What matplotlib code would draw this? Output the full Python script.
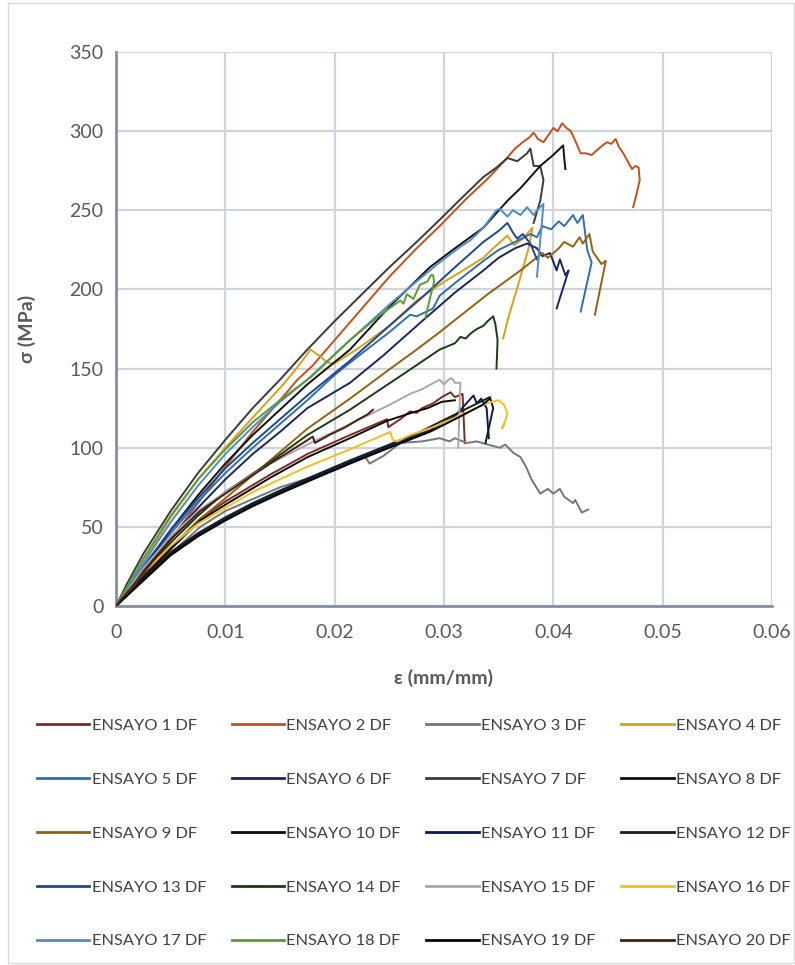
import matplotlib
matplotlib.use('Agg')
import numpy as np
import matplotlib.pyplot as plt
from matplotlib.patches import Rectangle

plt.rcParams['font.family'] = ['Lato', 'DejaVu Sans']

# ─── data: (strain mm/mm, stress MPa) ─────────────────────────────────────────

E01 = [(0, 0), (0.0025, 19), (0.005, 37), (0.0077, 55), (0.01, 66), (0.0141, 83), (0.0175, 96),
       (0.0214, 108), (0.0248, 118), (0.0249, 113), (0.026, 118), (0.0269, 123), (0.0275, 122),
       (0.028, 125), (0.029, 128), (0.0298, 132), (0.0306, 135), (0.031, 132), (0.0317, 134),
       (0.0319, 103)]
E02 = [(0, 0), (0.0025, 20), (0.005, 42), (0.0075, 65), (0.01, 88), (0.0125, 110), (0.015, 130),
       (0.0166, 143), (0.018, 152), (0.02, 168), (0.0225, 188), (0.025, 208), (0.0275, 226),
       (0.0296, 240), (0.032, 257), (0.034, 270), (0.0355, 281), (0.0365, 289), (0.0372, 293),
       (0.0378, 296), (0.0382, 299), (0.0386, 295), (0.0391, 293), (0.0396, 298), (0.04, 302),
       (0.0404, 300), (0.0408, 305), (0.0412, 302), (0.0416, 300), (0.042, 294), (0.0425, 286),
       (0.043, 286), (0.0435, 285), (0.044, 288), (0.0445, 291), (0.0449, 293), (0.0453, 292),
       (0.0457, 295), (0.046, 290), (0.0464, 286), (0.0468, 281), (0.0472, 276), (0.0475, 278),
       (0.0478, 277), (0.0479, 269), (0.0476, 260), (0.0473, 252)]
E03 = [(0, 0), (0.0025, 17), (0.005, 33), (0.0077, 50), (0.01, 60), (0.015, 75), (0.02, 86),
       (0.0228, 94), (0.0232, 90), (0.0245, 95), (0.026, 103), (0.028, 104), (0.0296, 106),
       (0.0305, 104), (0.031, 106), (0.0321, 103), (0.033, 104), (0.034, 102), (0.0351, 100),
       (0.0356, 102), (0.0363, 97), (0.037, 94), (0.0375, 88), (0.038, 80), (0.0388, 71),
       (0.0395, 74), (0.04, 71), (0.0406, 74), (0.041, 69), (0.0418, 65), (0.042, 67),
       (0.0426, 59), (0.0432, 61)]
E04 = [(0, 0), (0.0025, 28), (0.005, 56), (0.0075, 80), (0.01, 100), (0.0125, 119), (0.0153, 140),
       (0.0165, 150), (0.0178, 162), (0.0186, 158), (0.0193, 154), (0.0199, 153), (0.022, 162),
       (0.025, 177), (0.0275, 193), (0.0296, 203), (0.0315, 211), (0.0336, 220), (0.0345, 226),
       (0.0358, 234), (0.0364, 228), (0.0372, 232), (0.0381, 239), (0.0377, 225), (0.0367, 201),
       (0.036, 185), (0.0354, 169)]
E05 = [(0, 0), (0.0025, 24), (0.005, 46), (0.0075, 66), (0.01, 84), (0.0125, 100), (0.015, 115),
       (0.0175, 130), (0.02, 146), (0.022, 157), (0.025, 173), (0.0269, 184), (0.0275, 183),
       (0.029, 188), (0.0296, 196), (0.031, 204), (0.0336, 218), (0.035, 225), (0.0365, 230),
       (0.0379, 235), (0.0385, 233), (0.039, 240), (0.0398, 238), (0.0405, 243), (0.041, 240),
       (0.0418, 247), (0.0422, 242), (0.0427, 247), (0.0431, 225), (0.0435, 217), (0.0425, 186)]
E06 = [(0, 0), (0.0025, 22), (0.005, 43), (0.0075, 62), (0.01, 80), (0.0125, 96), (0.015, 110),
       (0.0175, 125), (0.0214, 141), (0.0244, 158), (0.028, 180), (0.031, 198), (0.0336, 212),
       (0.035, 220), (0.0365, 226), (0.0376, 229), (0.0385, 226), (0.039, 221), (0.0397, 223),
       (0.0403, 212), (0.0406, 219), (0.0411, 209), (0.0414, 212), (0.0403, 188)]
E07 = [(0, 0), (0.001, 14), (0.0025, 33), (0.005, 60), (0.0075, 84), (0.01, 105), (0.0125, 125),
       (0.015, 143), (0.0175, 162), (0.02, 180), (0.0225, 197), (0.025, 214), (0.0275, 230),
       (0.0296, 244), (0.0318, 259), (0.0336, 271), (0.0348, 277), (0.0358, 283), (0.0367, 281),
       (0.0376, 286), (0.0379, 289), (0.0382, 278), (0.0388, 278), (0.0391, 269), (0.0388, 256),
       (0.0382, 242)]
E08 = [(0, 0), (0.0025, 24), (0.005, 48), (0.0075, 70), (0.01, 90), (0.0125, 108), (0.015, 124),
       (0.0175, 140), (0.0214, 162), (0.025, 189), (0.0287, 214), (0.031, 226), (0.0336, 239),
       (0.0358, 256), (0.037, 264), (0.0388, 278), (0.04, 285), (0.0409, 291), (0.041, 283),
       (0.0411, 276)]
E09 = [(0, 0), (0.0025, 18), (0.005, 36), (0.0075, 54), (0.01, 68), (0.0141, 92), (0.0175, 112),
       (0.0214, 131), (0.0251, 150), (0.0275, 162), (0.0296, 173), (0.034, 197), (0.037, 212),
       (0.039, 223), (0.0395, 220), (0.0405, 226), (0.041, 230), (0.0418, 227), (0.0424, 233),
       (0.0427, 229), (0.0433, 235), (0.0436, 224), (0.044, 220), (0.0444, 216), (0.0448, 218),
       (0.0438, 184)]
E10 = [(0, 0), (0.0025, 18), (0.005, 36), (0.0077, 54), (0.01, 64), (0.0141, 81), (0.0175, 94),
       (0.0214, 106), (0.0248, 117), (0.027, 122), (0.0285, 125), (0.0298, 129), (0.031, 130)]
E11 = [(0, 0), (0.0025, 17), (0.005, 33), (0.0075, 45), (0.01, 55), (0.0125, 64), (0.015, 72),
       (0.018, 81), (0.0214, 91), (0.025, 101), (0.0287, 111), (0.031, 120), (0.0327, 133),
       (0.033, 128), (0.0334, 131), (0.0339, 125), (0.0341, 106)]
E12 = [(0, 0), (0.0025, 17), (0.005, 34), (0.0075, 46), (0.01, 56), (0.0125, 65), (0.015, 73),
       (0.018, 82), (0.0214, 92), (0.025, 102), (0.0278, 110), (0.031, 121), (0.0342, 132),
       (0.0345, 125), (0.0338, 103)]
E13 = [(0, 0), (0.0025, 25), (0.005, 48), (0.0075, 68), (0.01, 87), (0.0125, 103), (0.015, 118),
       (0.0175, 133), (0.0214, 155), (0.025, 177), (0.028, 195), (0.031, 214), (0.0336, 230),
       (0.035, 237), (0.0358, 242), (0.0363, 236), (0.0367, 232), (0.0372, 235), (0.0379, 229),
       (0.0385, 219)]
E14 = [(0, 0), (0.0025, 20), (0.005, 40), (0.0075, 57), (0.01, 72), (0.0141, 91), (0.0175, 108),
       (0.0214, 124), (0.0266, 148), (0.0296, 162), (0.031, 166), (0.0315, 170), (0.032, 169),
       (0.0324, 172), (0.033, 175), (0.0336, 177), (0.034, 180), (0.0345, 183), (0.0347, 178),
       (0.0349, 168), (0.0348, 150)]
E15 = [(0, 0), (0.0025, 24), (0.005, 44), (0.0075, 60), (0.01, 72), (0.0141, 90), (0.0175, 102),
       (0.0214, 115), (0.025, 127), (0.0269, 134), (0.028, 137), (0.0288, 140), (0.0296, 143),
       (0.03, 140), (0.0304, 143), (0.0307, 144), (0.031, 141), (0.0315, 141), (0.0313, 100)]
E16 = [(0, 0), (0.0025, 21), (0.005, 38), (0.0075, 52), (0.01, 62), (0.0125, 72), (0.0156, 82),
       (0.0175, 88), (0.0214, 99), (0.0251, 110), (0.0253, 105), (0.0257, 104), (0.0269, 108),
       (0.029, 113), (0.031, 119), (0.0339, 128), (0.0344, 129), (0.035, 130), (0.0355, 127),
       (0.0358, 122), (0.0356, 117), (0.0353, 112), (0.0355, 115)]
E17 = [(0, 0), (0.0025, 27), (0.005, 53), (0.0075, 76), (0.01, 96), (0.0125, 113), (0.015, 129),
       (0.0175, 143), (0.0214, 168), (0.0251, 191), (0.028, 208), (0.0294, 216), (0.0315, 227),
       (0.0324, 231), (0.0336, 239), (0.0348, 250), (0.0351, 251), (0.0358, 246), (0.0363, 250),
       (0.037, 247), (0.0376, 252), (0.0382, 247), (0.0385, 250), (0.0391, 254), (0.0388, 231),
       (0.0385, 208)]
E18 = [(0, 0), (0.0025, 30), (0.005, 57), (0.0075, 80), (0.01, 99), (0.0125, 116), (0.015, 130),
       (0.0179, 145), (0.0214, 168), (0.024, 183), (0.026, 193), (0.0263, 191), (0.0266, 197),
       (0.0272, 194), (0.0278, 203), (0.0285, 205), (0.0288, 209), (0.029, 209), (0.0291, 205),
       (0.0287, 194), (0.0283, 182)]
E19 = [(0, 0), (0.0025, 16), (0.005, 32), (0.0075, 44), (0.01, 54), (0.0125, 63), (0.015, 71),
       (0.018, 80), (0.0214, 90), (0.025, 100), (0.0287, 110), (0.031, 118), (0.0335, 127),
       (0.0342, 131)]
E20 = [(0, 0), (0.0025, 21), (0.005, 42), (0.0077, 60), (0.01, 71), (0.0141, 90), (0.0171, 103),
       (0.018, 107), (0.0182, 103), (0.0195, 108), (0.021, 113), (0.0222, 118), (0.023, 121),
       (0.0235, 124)]

series = [E01, E02, E03, E04, E05, E06, E07, E08, E09, E10,
          E11, E12, E13, E14, E15, E16, E17, E18, E19, E20]
labels = [f'ENSAYO {i} DF' for i in range(1, 21)]
colors = ['#7b2a22', '#c5501c', '#767676', '#d9a01a', '#2e6fae',
          '#1c2462', '#3a3a3a', '#111111', '#94620f', '#0a0a0a',
          '#0e1858', '#152015', '#1f4590', '#1e3a14', '#a8a8a8',
          '#f2c01e', '#4f8cc4', '#5c9a38', '#050505', '#4a1c12']

x_ticks = [0, 0.01, 0.02, 0.03, 0.04, 0.05, 0.06]
y_ticks = [0, 50, 100, 150, 200, 250, 300, 350]

# ─── plot ─────────────────────────────────────────────────────────────────────

W, H = 795, 965
fig = plt.figure(figsize=(W / 100, H / 100), dpi=100)
ax = fig.add_axes([116 / W, 1 - 606 / H, (772 - 116) / W, (606 - 52) / H])

handles = []
for pts, lab, col in zip(series, labels, colors):
    a = np.array(pts, dtype=float)
    h, = ax.plot(a[:, 0], a[:, 1], color=col, lw=1.4, label=lab, zorder=3)
    handles.append(h)

ax.set_xlim(0, 0.06)
ax.set_ylim(0, 350)
ax.set_xticks(x_ticks)
ax.set_xticklabels(['0' if t == 0 else f'{t:g}' for t in x_ticks])
ax.set_yticks(y_ticks)
ax.grid(True, color='#d0d4da', lw=1.6, zorder=0)
ax.set_axisbelow(True)
for s in ('top', 'right'):
    ax.spines[s].set_visible(False)
for s in ('left', 'bottom'):
    ax.spines[s].set_color('#8390a4')
    ax.spines[s].set_linewidth(2.0)
ax.tick_params(length=0, labelsize=14, colors='#595959', pad=9)
ax.tick_params(axis='x', pad=13)

ax.set_xlabel('ε (mm/mm)', fontsize=14, fontweight='bold', color='#595959', labelpad=20)
ax.set_ylabel('σ (MPa)', fontsize=14, fontweight='bold', color='#595959', labelpad=24)

# legend filled row by row like the spreadsheet (4 columns)
order = [r * 4 + c for c in range(4) for r in range(5)]
leg = fig.legend([handles[i] for i in order], [labels[i] for i in order],
                 ncol=4, loc='upper left', bbox_to_anchor=(22 / W, 1 - 704 / H),
                 frameon=False, fontsize=11.8, handlelength=3.2, handletextpad=0.15,
                 columnspacing=1.55, labelspacing=2.4)
for t in leg.get_texts():
    t.set_color('#404040')
for l in leg.get_lines():
    l.set_linewidth(2.0)

# outer chart frame
fig.patches.append(Rectangle((8 / W, 2 / H), (794 - 8) / W, (962 - 2) / H,
                             transform=fig.transFigure, fill=False,
                             edgecolor='#d9d9d9', lw=1.0))

fig.savefig('out.png', dpi=100)
